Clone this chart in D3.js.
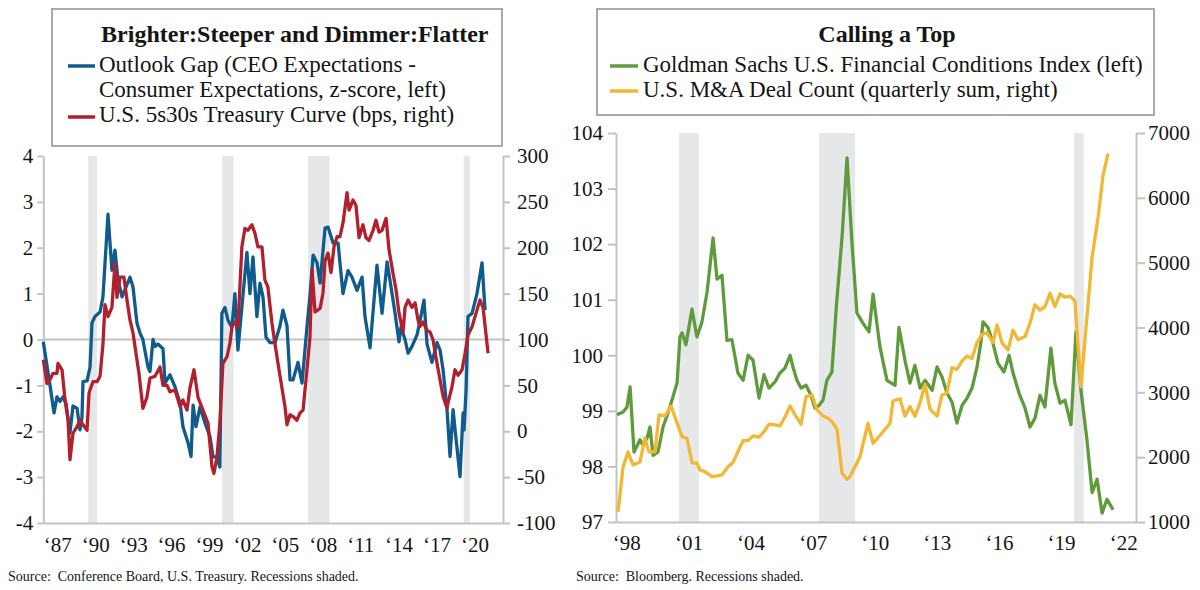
<!DOCTYPE html>
<html><head><meta charset="utf-8">
<script src="https://cdn.jsdelivr.net/npm/d3@7"></script>
<style>
body{margin:0;background:#fff;}
svg{display:block;font-family:"Liberation Serif","Times New Roman",serif;}
</style></head><body>
<svg id="chart" width="1200" height="590"></svg>
<script>
// ---------- DATA: left panel ----------
const gapDates = [1987.0,1987.53,1987.85,1988.08,1988.32,1988.56,1988.8,1989.11,1989.35,1989.67,1989.9,1990.06,1990.14,1990.46,1990.7,1990.85,1991.09,1991.49,1991.72,1992.12,1992.43,1992.67,1992.91,1993.23,1993.86,1994.1,1994.41,1994.65,1994.88,1995.28,1995.44,1995.68,1995.84,1996.07,1996.47,1996.63,1997.02,1997.42,1997.82,1998.05,1998.45,1998.69,1998.85,1999.08,1999.4,1999.79,2000.19,2000.43,2000.74,2000.97,2001.13,2001.37,2001.61,2001.92,2002.16,2002.4,2002.71,2003.11,2003.35,2003.59,2003.9,2004.14,2004.38,2004.62,2004.94,2005.33,2005.73,2005.96,2006.28,2006.52,2006.76,2007.15,2007.47,2007.87,2008.11,2008.35,2008.66,2008.9,2009.29,2009.53,2009.93,2010.32,2010.71,2011.11,2011.42,2011.82,2012.22,2012.45,2012.85,2013.4,2013.8,2014.2,2014.51,2014.83,2015.14,2015.3,2015.62,2015.86,2016.17,2016.57,2016.8,2017.12,2017.36,2017.75,2018.15,2018.39,2018.63,2018.94,2019.18,2019.42,2019.58,2019.97,2020.21,2020.29,2020.45,2020.6,2020.92,2021.31,2021.71,2021.95];
const gapValues = [-0.05,-1.0,-1.6,-1.25,-1.35,-1.25,-1.4,-2.04,-1.45,-1.5,-1.97,-1.7,-0.92,-0.9,-0.6,0.36,0.5,0.6,0.93,2.73,1.51,1.95,1.3,0.93,1.36,1.14,0.36,0.14,0.0,-0.6,-0.7,0.0,-0.15,-0.1,-0.2,-0.95,-0.77,-1.03,-1.39,-1.9,-2.25,-2.55,-1.43,-1.9,-1.47,-1.82,-2.12,-2.56,-2.56,-2.78,0.57,0.7,0.42,0.27,1.0,-0.23,0.7,1.9,1.0,1.8,0.5,1.23,0.93,0.05,-0.07,-0.07,0.3,0.64,0.3,-0.88,-0.88,-0.5,-0.95,0.3,1.0,1.84,1.67,1.23,2.43,2.45,2.1,2.1,1.0,1.5,1.36,1.07,1.36,0.5,-0.18,1.62,0.57,1.69,1.15,0.57,-0.05,0.27,0.0,-0.3,-0.15,0.1,0.4,0.86,-0.1,-0.5,-0.07,-0.23,-0.66,-1.53,-2.55,-1.53,-1.97,-2.99,-1.6,-1.97,-1.1,0.5,0.57,1.0,1.67,0.64];

const curveDates = [1987.0,1987.29,1987.52,1987.76,1988.08,1988.16,1988.48,1988.72,1988.96,1989.11,1989.35,1989.67,1989.9,1990.14,1990.46,1990.62,1990.93,1991.25,1991.49,1991.72,1991.88,1992.12,1992.43,1992.67,1992.83,1993.07,1993.38,1993.62,1993.86,1994.1,1994.33,1994.57,1994.88,1995.2,1995.44,1995.84,1996.23,1996.47,1996.79,1997.02,1997.42,1997.82,1998.05,1998.37,1998.6,1998.92,1999.24,1999.63,2000.03,2000.35,2000.5,2000.74,2000.97,2001.21,2001.53,2001.77,2001.93,2002.17,2002.4,2002.71,2002.95,2003.19,2003.5,2003.74,2003.98,2004.3,2004.53,2004.77,2005.09,2005.33,2005.73,2006.12,2006.28,2006.52,2006.76,2007.07,2007.31,2007.55,2007.86,2008.1,2008.26,2008.5,2008.9,2009.13,2009.29,2009.53,2009.76,2010.0,2010.24,2010.47,2010.71,2011.03,2011.19,2011.5,2011.74,2011.98,2012.29,2012.53,2012.77,2013.09,2013.32,2013.56,2013.8,2014.12,2014.35,2014.67,2014.91,2015.14,2015.46,2015.62,2015.86,2016.17,2016.41,2016.65,2016.8,2017.04,2017.36,2017.6,2017.83,2018.15,2018.39,2018.63,2018.94,2019.02,2019.33,2019.57,2019.81,2020.13,2020.37,2020.6,2020.92,2021.31,2021.55,2021.79,2022.19];
const curveValues = [78,52,56,63,63,74,67,34,12,-31,-2,5,12,7,1,42,54,54,60,95,138,125,135,183,146,168,168,143,121,107,85,63,25,37,58,60,70,50,50,43,45,27,34,23,47,67,37,23,9,-39,-46,-28,9,74,81,96,114,119,114,201,221,219,225,216,201,201,165,157,118,95,60,27,7,18,16,12,20,23,67,103,176,130,134,151,186,194,173,201,212,212,227,260,241,252,246,211,225,211,208,219,230,217,219,232,198,172,154,129,108,135,143,135,140,121,114,119,110,108,100,74,56,38,25,31,48,67,61,67,85,105,114,132,143,135,85];

const leftRecessions = [[1990.55,1991.25],[2001.15,2002.05],[2007.95,2009.65],[2020.25,2020.75]];
const leftTicksL = [-4,-3,-2,-1,0,1,2,3,4];
const leftTickLabelsL = ["-4","-3","-2","-1","0","1","2","3","4"];
const leftTicksR = [-100,-50,0,50,100,150,200,250,300];
const leftTickLabelsR = ["-100","-50","0","50","100","150","200","250","300"];
const leftYears = [1987,1990,1993,1996,1999,2002,2005,2008,2011,2014,2017,2020];
const leftYearLabels = ["\u201887","\u201890","\u201893","\u201896","\u201899","\u201802","\u201805","\u201808","\u201811","\u201814","\u201817","\u201820"];

// ---------- DATA: right panel ----------
const fciDates = [1998.05,1998.34,1998.53,1998.68,1998.87,1999.16,1999.3,1999.5,1999.64,1999.79,2000.03,2000.27,2000.51,2000.75,2000.95,2001.09,2001.19,2001.38,2001.67,2001.91,2002.15,2002.4,2002.69,2002.88,2003.12,2003.36,2003.6,2003.89,2004.14,2004.38,2004.62,2004.91,2005.15,2005.39,2005.68,2005.92,2006.16,2006.41,2006.55,2006.74,2006.94,2007.18,2007.42,2007.61,2007.81,2008.0,2008.19,2008.43,2008.53,2008.63,2008.92,2009.16,2009.4,2009.64,2009.93,2010.22,2010.42,2010.75,2011.09,2011.48,2011.67,2011.96,2012.2,2012.44,2012.69,2012.93,2013.27,2013.51,2013.75,2013.99,2014.23,2014.47,2014.72,2014.96,2015.2,2015.44,2015.63,2015.73,2015.97,2016.21,2016.45,2016.74,2016.99,2017.18,2017.47,2017.76,2018.0,2018.24,2018.48,2018.72,2019.01,2019.2,2019.45,2019.69,2019.98,2020.22,2020.46,2020.75,2021.0,2021.24,2021.48,2021.72,2022.01];
const fciValues = [98.93,98.98,99.07,99.43,98.26,98.48,98.39,98.51,98.71,98.2,98.26,98.71,98.96,99.25,99.5,100.33,100.4,100.19,100.83,100.33,100.6,101.14,102.11,101.37,101.44,100.27,100.28,99.68,99.55,100.0,99.91,99.23,99.65,99.41,99.52,99.68,99.77,100.0,99.79,99.55,99.41,99.46,99.28,99.05,99.1,99.19,99.55,99.7,100.24,100.81,102.13,103.55,102.02,100.76,100.58,100.42,101.1,100.15,99.55,99.46,100.5,99.91,99.5,99.82,99.41,99.55,99.37,99.79,99.61,99.32,99.16,98.78,99.1,99.23,99.41,99.79,100.24,100.6,100.5,100.22,99.86,99.7,100.0,99.68,99.32,99.05,98.71,98.87,99.28,99.07,100.13,99.5,99.14,99.19,98.75,100.42,99.37,98.48,97.53,97.77,97.16,97.41,97.22];

const maDates = [1998.1,1998.34,1998.58,1998.82,1999.16,1999.4,1999.59,1999.88,2000.08,2000.37,2000.66,2000.95,2001.19,2001.43,2001.67,2001.91,2002.06,2002.3,2002.64,2002.88,2003.12,2003.41,2003.65,2003.89,2004.14,2004.38,2004.62,2004.91,2005.15,2005.39,2005.68,2005.92,2006.16,2006.41,2006.65,2006.94,2007.18,2007.47,2007.71,2008.0,2008.24,2008.48,2008.68,2008.92,2009.16,2009.3,2009.55,2009.79,2010.17,2010.42,2010.66,2011.0,2011.24,2011.38,2011.72,2011.96,2012.2,2012.44,2012.69,2012.93,2013.17,2013.51,2013.75,2013.99,2014.23,2014.47,2014.72,2014.96,2015.2,2015.44,2015.68,2015.92,2016.21,2016.41,2016.65,2016.94,2017.18,2017.42,2017.76,2018.0,2018.24,2018.48,2018.72,2018.97,2019.2,2019.45,2019.69,2019.93,2020.17,2020.46,2021.0,2021.29,2021.53,2021.77];
const maValues = [1156,1850,2081,1881,1927,2297,2081,2081,2652,2636,2790,2528,2317,2292,1916,1906,1803,1777,1700,1711,1726,1854,1916,2086,2255,2255,2328,2308,2394,2508,2497,2482,2616,2790,2652,2508,2934,2960,2729,2636,2601,2533,2420,1753,1660,1700,1854,2010,2524,2215,2300,2430,2524,2866,2900,2632,2780,2632,2840,3125,2740,2632,2960,2990,3380,3355,3486,3561,3520,3767,3895,3920,3767,4040,3760,3655,3960,3810,3860,4070,4350,4270,4320,4530,4320,4520,4470,4485,4410,3090,5090,5700,6350,6680];

const rightRecessions = [[2001.04,2002.0],[2007.8,2009.55],[2020.13,2020.6]];
const rightTicksL = [97,98,99,100,101,102,103,104];
const rightTickLabelsL = ["97","98","99","100","101","102","103","104"];
const rightTicksR = [1000,2000,3000,4000,5000,6000,7000];
const rightTickLabelsR = ["1000","2000","3000","4000","5000","6000","7000"];
const rightYears = [1998,2001,2004,2007,2010,2013,2016,2019,2022];
const rightYearLabels = ["\u201898","\u201801","\u201804","\u201807","\u201810","\u201813","\u201816","\u201819","\u201822"];

// ---------- STYLE ----------
const C = {blue:"#0f5b8c", red:"#b2202e", green:"#5f9a3b", orange:"#f4b734",
           shade:"#e6e7e9", axis:"#c3c3c3", box:"#a9aaaa", text:"#151515"};
const FONT = '"Liberation Serif","Times New Roman",serif';
const svg = d3.select("#chart");
svg.append("rect").attr("width",1200).attr("height",590).attr("fill","#fff");

function styleAxis(g){
  g.attr("font-family",FONT).attr("font-size",21);
  g.select(".domain").attr("stroke",C.axis).attr("stroke-width",2);
  g.selectAll(".tick line").attr("stroke",C.axis).attr("stroke-width",2);
  g.selectAll(".tick text").attr("fill",C.text);
}
function drawLine(g, x, y, dates, values, color){
  const line = d3.line().x(d=>x(d[0])).y(d=>y(d[1]));
  g.append("path").datum(d3.zip(dates, values)).attr("d", line)
   .attr("fill","none").attr("stroke",color).attr("stroke-width",3.3)
   .attr("stroke-linejoin","round");
}

// ================= LEFT PANEL =================
{
  const xL = d3.scaleLinear().domain([1987, 2023.37]).range([43.3, 503]);
  const yA = d3.scaleLinear().domain([-4, 4]).range([523, 156]);
  const yB = d3.scaleLinear().domain([-100, 300]).range([523, 156]);
  const g = svg.append("g");

  g.selectAll("rect.rec").data(leftRecessions).join("rect")
    .attr("x", d=>xL(d[0])).attr("width", d=>xL(d[1])-xL(d[0]))
    .attr("y", yA(4)).attr("height", yA(-4)-yA(4)).attr("fill", C.shade);

  g.append("line").attr("x1",xL.range()[0]).attr("x2",xL.range()[1])
    .attr("y1",yA(0)).attr("y2",yA(0)).attr("stroke",C.axis).attr("stroke-width",2);

  const ax1 = g.append("g").attr("transform",`translate(${xL.range()[0]},0)`)
    .call(d3.axisLeft(yA).tickValues(leftTicksL).tickFormat((d,i)=>leftTickLabelsL[i])
      .tickSize(6).tickSizeOuter(0).tickPadding(4));
  styleAxis(ax1);
  const ax2 = g.append("g").attr("transform",`translate(${xL.range()[1]},0)`)
    .call(d3.axisRight(yB).tickValues(leftTicksR).tickFormat((d,i)=>leftTickLabelsR[i])
      .tickSize(7).tickSizeOuter(0).tickPadding(7));
  styleAxis(ax2);
  const ax3 = g.append("g").attr("transform",`translate(0,${yA(-4)})`)
    .call(d3.axisBottom(xL).tickValues(leftYears).tickFormat((d,i)=>leftYearLabels[i])
      .tickSize(0).tickSizeOuter(0).tickPadding(14));
  styleAxis(ax3);
  ax3.selectAll(".tick text").attr("text-anchor","start");

  drawLine(g, xL, yA, gapDates, gapValues, C.blue);
  drawLine(g, xL, yB, curveDates, curveValues, C.red);

  // legend
  const lg = svg.append("g").attr("font-family",FONT).attr("fill",C.text);
  lg.append("rect").attr("x",52).attr("y",9).attr("width",450).attr("height",137)
    .attr("fill","#fff").attr("stroke",C.box).attr("stroke-width",2);
  lg.append("text").attr("x",488.5).attr("y",42).attr("text-anchor","end")
    .attr("font-weight","bold").attr("font-size",24).text("Brighter:Steeper and Dimmer:Flatter");
  lg.append("line").attr("x1",68).attr("x2",95).attr("y1",66).attr("y2",66).attr("stroke",C.blue).attr("stroke-width",3.5);
  lg.append("text").attr("x",99).attr("y",72).attr("font-size",23).text("Outlook Gap (CEO Expectations -");
  lg.append("text").attr("x",99).attr("y",97).attr("font-size",23).text("Consumer Expectations, z-score, left)");
  lg.append("line").attr("x1",68).attr("x2",95).attr("y1",117).attr("y2",117).attr("stroke",C.red).attr("stroke-width",3.5);
  lg.append("text").attr("x",99).attr("y",122).attr("font-size",23).text("U.S. 5s30s Treasury Curve (bps, right)");

  svg.append("text").attr("x",8).attr("y",581).attr("font-family",FONT).attr("font-size",14)
    .attr("fill",C.text).text("Source:\u00A0 Conference Board, U.S. Treasury. Recessions shaded.");
}

// ================= RIGHT PANEL =================
{
  const xR = d3.scaleLinear().domain([1998, 2023.12]).range([616, 1136]);
  const yF = d3.scaleLinear().domain([97, 104]).range([522, 133]);
  const yM = d3.scaleLinear().domain([1000, 7000]).range([522, 133]);
  const g = svg.append("g");

  g.selectAll("rect.rec").data(rightRecessions).join("rect")
    .attr("x", d=>xR(d[0])).attr("width", d=>xR(d[1])-xR(d[0]))
    .attr("y", yF(104)).attr("height", yF(97)-yF(104)).attr("fill", C.shade);

  const ax1 = g.append("g").attr("transform",`translate(${xR.range()[0]},0)`)
    .call(d3.axisLeft(yF).tickValues(rightTicksL).tickFormat((d,i)=>rightTickLabelsL[i])
      .tickSize(8).tickSizeOuter(0).tickPadding(5));
  styleAxis(ax1);
  const ax2 = g.append("g").attr("transform",`translate(${xR.range()[1]},0)`)
    .call(d3.axisRight(yM).tickValues(rightTicksR).tickFormat((d,i)=>rightTickLabelsR[i])
      .tickSize(9).tickSizeOuter(0).tickPadding(3));
  styleAxis(ax2);
  const half = xR(1998.5) - xR(1998);
  const ax3 = g.append("g").attr("transform",`translate(0,${yF(97)})`)
    .call(d3.axisBottom(xR).tickValues(rightYears).tickFormat((d,i)=>rightYearLabels[i])
      .tickSize(0).tickSizeOuter(0).tickPadding(13));
  styleAxis(ax3);
  ax3.selectAll(".tick text").attr("x", half);

  drawLine(g, xR, yF, fciDates, fciValues, C.green);
  drawLine(g, xR, yM, maDates, maValues, C.orange);

  const lg = svg.append("g").attr("font-family",FONT).attr("fill",C.text);
  lg.append("rect").attr("x",597).attr("y",9).attr("width",557).attr("height",106)
    .attr("fill","#fff").attr("stroke",C.box).attr("stroke-width",2);
  lg.append("text").attr("x",887).attr("y",42).attr("text-anchor","middle")
    .attr("font-weight","bold").attr("font-size",24).text("Calling a Top");
  lg.append("line").attr("x1",610).attr("x2",638).attr("y1",66).attr("y2",66).attr("stroke",C.green).attr("stroke-width",3.5);
  lg.append("text").attr("x",643).attr("y",72).attr("font-size",23).text("Goldman Sachs U.S. Financial Conditions Index (left)");
  lg.append("line").attr("x1",610).attr("x2",638).attr("y1",91).attr("y2",91).attr("stroke",C.orange).attr("stroke-width",3.5);
  lg.append("text").attr("x",643).attr("y",97).attr("font-size",23).text("U.S. M&A Deal Count (quarterly sum, right)");

  svg.append("text").attr("x",576).attr("y",581).attr("font-family",FONT).attr("font-size",14)
    .attr("fill",C.text).text("Source:\u00A0 Bloomberg. Recessions shaded.");
}
</script>
</body></html>
